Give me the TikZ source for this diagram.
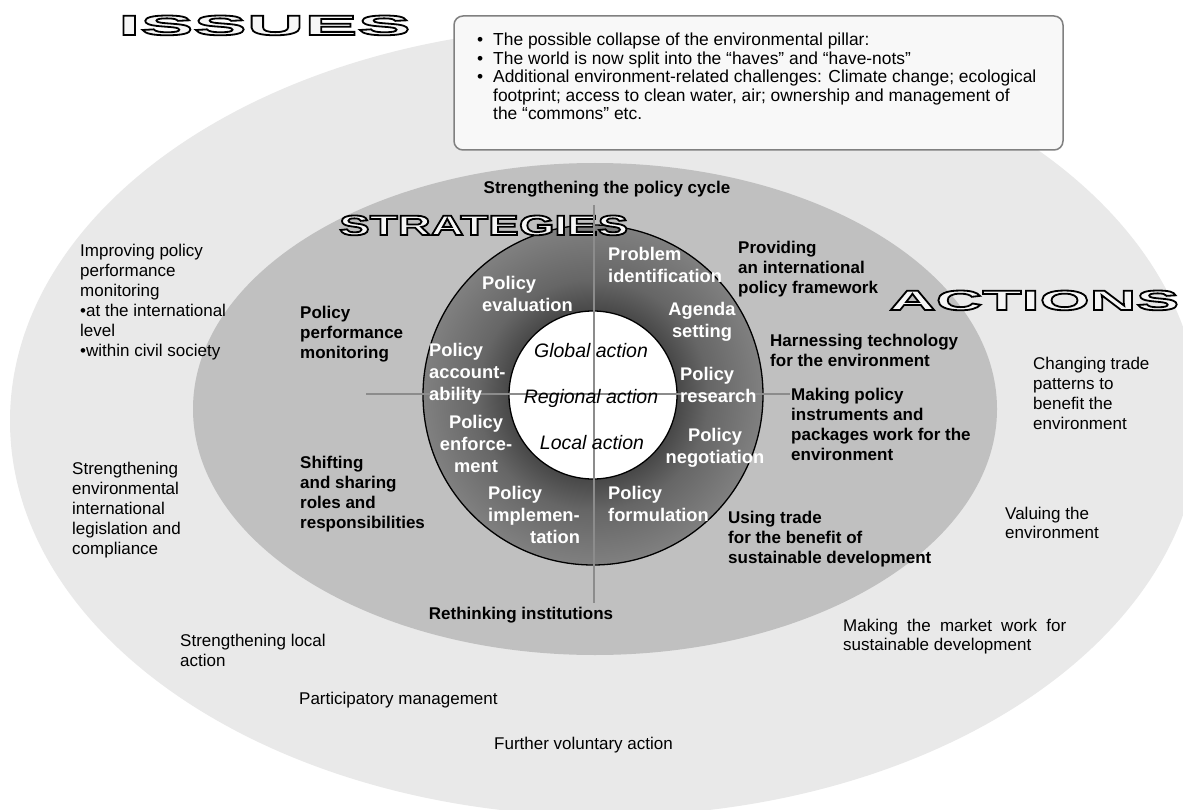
\documentclass[tikz,border=0pt]{standalone}
\usepackage{fontspec}
\setmainfont{Liberation Sans}
\newfontfamily\issuesfont{Liberation Sans}[FakeStretch=2.86]
\newfontfamily\strategiesfont{Liberation Sans}[FakeStretch=1.64]
\newfontfamily\actionsfont{Liberation Sans}[FakeStretch=2.31]
\definecolor{outerfill}{HTML}{E9E9E9}
\definecolor{midfill}{HTML}{C0C0C0}
\definecolor{boxfill}{HTML}{F8F8F8}
\definecolor{boxgray}{HTML}{808080}
\definecolor{axisgray}{HTML}{8C8C8C}
\definecolor{titlefill}{HTML}{F6F6F6}
\definecolor{ringdark}{HTML}{484848}
\definecolor{ringmid}{HTML}{666666}
\definecolor{ringlight}{HTML}{808080}
\pgfdeclareradialshading{ringshade}{\pgfpoint{0bp}{0bp}}{color(0bp)=(ringdark); color(12.4bp)=(ringdark); color(17bp)=(ringmid); color(25bp)=(ringlight); color(50bp)=(ringlight)}
\newcommand\outlinedtext[1]{{\color{titlefill}\special{pdf:literal direct 2 Tr 1.8 w 0 G}#1\special{pdf:literal direct 0 Tr}}}
\tikzset{
  txt/.style={inner sep=0pt, align=left, anchor=north west, font=\fontsize{17}{20}\selectfont},
  btxt/.style={txt, font=\fontsize{17}{20}\selectfont\bfseries},
  rtxt/.style={inner sep=0pt, align=left, anchor=north west, text=white, font=\fontsize{18.3}{21.7}\selectfont\bfseries},
  itxt/.style={inner sep=0pt, anchor=base, font=\fontsize{19.5}{23}\selectfont\itshape},
  boxtxt/.style={inner sep=0pt, align=left, anchor=north west, font=\fontsize{17.4}{18.5}\selectfont},
  titletxt/.style={inner sep=0pt, anchor=base west},
  axisline/.style={draw=axisgray, line width=1.6pt},
}
\begin{document}
\begin{tikzpicture}[x=1pt,y=-1pt]
\useasboundingbox (0,0) rectangle (1183,810);
\fill[white] (0,0) rectangle (1183,810);
% ellipses
\fill[outerfill] (605,421) ellipse [x radius=595pt, y radius=395pt];
\fill[midfill] (595,409) ellipse [x radius=402pt, y radius=246pt];
% issues box
\draw[draw=boxgray, fill=boxfill, line width=1.5pt, rounded corners=9pt] (454,16) rectangle (1063,150);
\node[boxtxt] (issuesbox) at (477,32.8) {%
\makebox[16pt][l]{•}The possible collapse of the environmental pillar:\\
\makebox[16pt][l]{•}The world is now split into the “haves” and “have-nots”\\
\makebox[16pt][l]{•}Additional environment-related challenges: Climate change; ecological\\
\hspace*{16pt}footprint; access to clean water, air; ownership and management of\\
\hspace*{16pt}the “commons” etc.};
% ring
\coordinate (rc) at (593,395);
\shade[shading=ringshade] (rc) circle[radius=170pt];
\draw[black, line width=1.3pt] (rc) circle[radius=170pt];
\fill[white] (rc) circle[radius=84pt];
\draw[black, line width=1.3pt] (rc) circle[radius=84pt];
% titles
\node[titletxt, font=\issuesfont\bfseries\fontsize{27.9}{30}\selectfont] (issues) at (118,35) {\outlinedtext{ISSUES}};
\node[titletxt, font=\strategiesfont\bfseries\fontsize{27.9}{30}\selectfont] (strategies) at (339,235) {\outlinedtext{STRATEGIES}};
\node[titletxt, font=\actionsfont\bfseries\fontsize{27.9}{30}\selectfont] (actions) at (889,310) {\outlinedtext{ACTIONS}};
% axes
\coordinate (vtop) at (594,205);
\coordinate (vbot) at (594,603);
\coordinate (hleft) at (366,394);
\coordinate (hright) at (790,394);
\draw[axisline] (vtop) -- (vbot);
\draw[axisline] (hleft) -- (hright);
% outer (actions) texts
\node[txt] (o1) at (80,244) {Improving policy\\performance\\monitoring\\•at the international\\level\\•within civil society};
\node[txt] (o2) at (72,462) {Strengthening\\environmental\\international\\legislation and\\compliance};
\node[txt] (o3) at (180,634) {Strengthening local\\action};
\node[txt] (o4) at (299,692) {Participatory management};
\node[txt] (o5) at (494,737) {Further voluntary action};
\node[txt, font=\fontsize{17}{19}\selectfont] (o6) at (843,619) {\makebox[223pt][s]{Making the market work for}\\sustainable development};
\node[txt, font=\fontsize{17}{19}\selectfont] (o7) at (1005,507) {Valuing the\\environment};
\node[txt] (o8) at (1033,357) {Changing trade\\patterns to\\benefit the\\environment};
% strategies texts
\node[btxt, anchor=north] (b1) at (607,181) {Strengthening the policy cycle};
\node[btxt] (b2) at (738,241) {Providing\\an international\\policy framework};
\node[btxt] (b3) at (770,334) {Harnessing technology\\for the environment};
\node[btxt] (b4) at (791,388) {Making policy\\instruments and\\packages work for the\\environment};
\node[btxt] (b5) at (728,511) {Using trade\\for the benefit of\\sustainable development};
\node[btxt, anchor=north] (b6) at (521,607) {Rethinking institutions};
\node[btxt] (b7) at (300,456) {Shifting\\and sharing\\roles and\\responsibilities};
\node[btxt] (b8) at (300,306) {Policy\\performance\\monitoring};
% ring texts
\node[rtxt] (r1) at (608,247.5) {Problem\\identification};
\node[rtxt] (r2) at (482,276.5) {Policy\\evaluation};
\node[rtxt, align=center, anchor=north] (r3) at (702,302.5) {Agenda\\setting};
\node[rtxt] (r4) at (429,343.5) {Policy\\account-\\ability};
\node[rtxt] (r5) at (680,367.5) {Policy\\research};
\node[rtxt, align=center, anchor=north] (r6) at (476,415.5) {Policy\\enforce-\\ment};
\node[rtxt, align=center, anchor=north] (r7) at (715,428.5) {Policy\\negotiation};
\node[rtxt] (r8) at (488,486.5) {Policy\\implemen-\\\hspace*{42pt}tation};
\node[rtxt] (r9) at (608,486.5) {Policy\\formulation};
% inner circle texts
\node[itxt] (i1) at (591,357) {Global action};
\node[itxt] (i2) at (591,403) {Regional action};
\node[itxt] (i3) at (592,449) {Local action};
\end{tikzpicture}
\end{document}
